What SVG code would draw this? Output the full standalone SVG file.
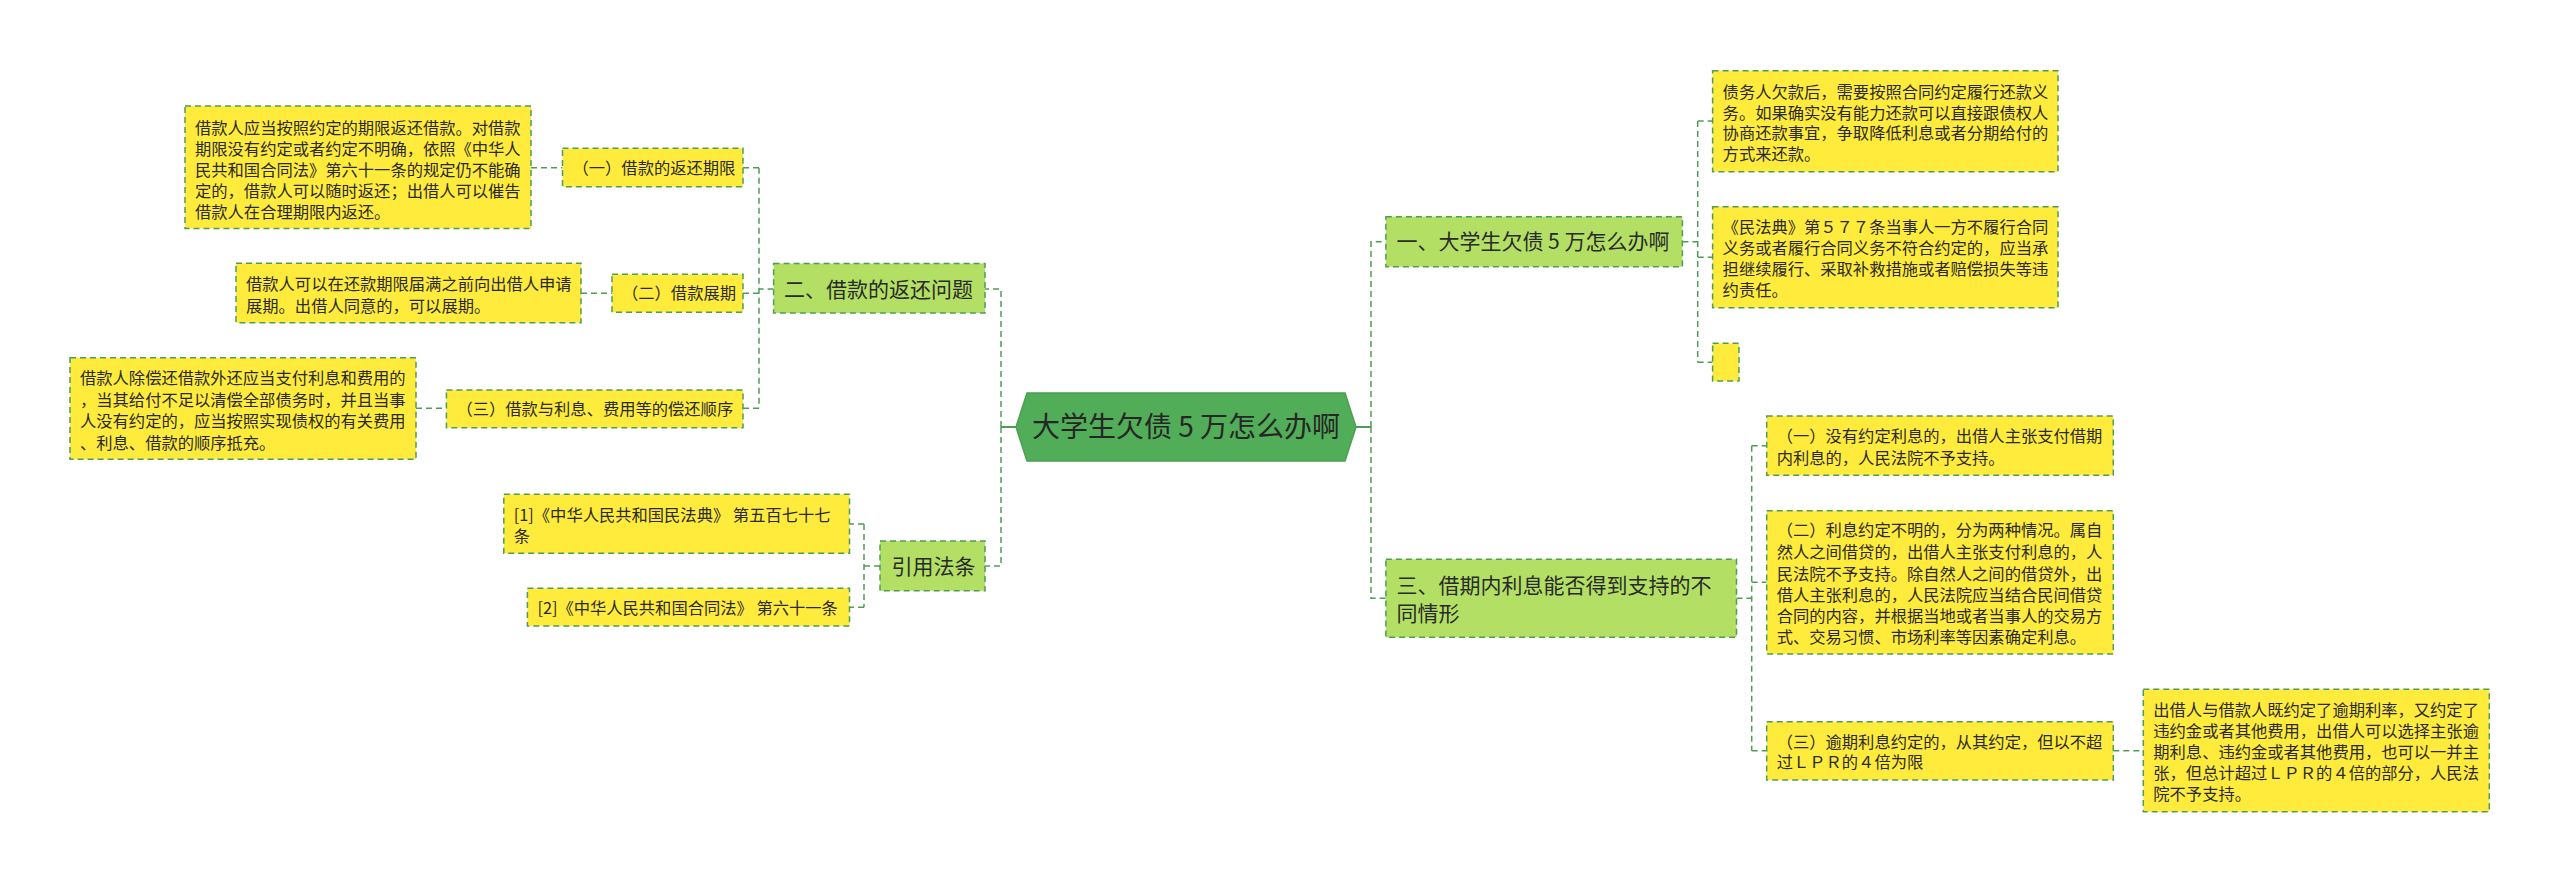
<svg xmlns="http://www.w3.org/2000/svg" width="2560" height="883" viewBox="0 0 2560 883">
<style>
.leaf{fill:#ffeb3b;stroke:#4f9d55;stroke-width:1.5;stroke-dasharray:6 4}
.branch{fill:#b3e064;stroke:#4f9d55;stroke-width:1.5;stroke-dasharray:6 4}
.t{font-family:"Noto Sans CJK SC","Noto Sans",sans-serif;font-size:16.3px;fill:#2a2a2a}
.bt{font-family:"Noto Sans CJK SC","Noto Sans",sans-serif;font-size:21px;fill:#2a2a2a}
.ct{font-family:"Noto Sans CJK SC","Noto Sans",sans-serif;font-size:28px;fill:#262626}
.c{fill:none;stroke:#4f9d55;stroke-width:1.5;stroke-dasharray:6 4}
.cs{fill:none;stroke:#4f9d55;stroke-width:2}
</style>
<rect width="2560" height="883" fill="#ffffff"/>
<g id="connectors">
<path class="cs" d="M1016 427H1001"/>
<path class="c" d="M1001 427V289H985M1001 427V566H985"/>
<path class="cs" d="M1356 427H1371"/>
<path class="c" d="M1371 427V241.7H1386M1371 427V598.3H1386"/>
<path class="c" d="M773.6 289H759M759 167.7V408.3M759 167.7H743M759 293.3H743M759 408.3H743"/>
<path class="c" d="M531 167.7H562.5M581 293.3H612M416 408.3H446.4"/>
<path class="c" d="M880 566H864M864 524V607.3M864 524H849.5M864 607.3H849.5"/>
<path class="c" d="M1682.4 241.7H1697.7M1697.7 121V362.3M1697.7 121H1712.6M1697.7 257.3H1712.6M1697.7 362.3H1712.6"/>
<path class="c" d="M1736.5 598.3H1751.7M1751.7 445.7V750.7M1751.7 445.7H1766.7M1751.7 582.3H1766.7M1751.7 750.7H1766.7"/>
<path class="c" d="M2113.3 750.7H2143.3"/>
</g>
<g id="center">
<polygon points="1016,427 1027,393 1345,393 1356,427 1345,461 1027,461" fill="#52ad59" stroke="#4a9f50" stroke-width="1.5"/>
<text class="ct" x="1186" y="437" text-anchor="middle">大学生欠债 5 万怎么办啊</text>
</g>
<g id="b2">
<rect class="branch" x="773.6" y="263.5" width="211.4" height="49.5"/>
<text class="bt" x="784" y="296.5">二、借款的返还问题</text>
</g>
<g id="b2-1">
<rect class="leaf" x="562.5" y="148.3" width="180.5" height="38.4"/>
<text class="t" x="572.5" y="174">（一）借款的返还期限</text>
</g>
<g id="b2-1-1">
<rect class="leaf" x="185" y="106" width="346" height="122.5"/>
<text class="t" x="195" y="134">借款人应当按照约定的期限返还借款。对借款</text>
<text class="t" x="195" y="155">期限没有约定或者约定不明确，依照《中华人</text>
<text class="t" x="195" y="176">民共和国合同法》第六十一条的规定仍不能确</text>
<text class="t" x="195" y="197">定的，借款人可以随时返还；出借人可以催告</text>
<text class="t" x="195" y="218">借款人在合理期限内返还。</text>
</g>
<g id="b2-2">
<rect class="leaf" x="612" y="274.3" width="131" height="38"/>
<text class="t" x="622" y="299.3">（二）借款展期</text>
</g>
<g id="b2-2-1">
<rect class="leaf" x="236" y="263.3" width="345" height="59.4"/>
<text class="t" x="246" y="290">借款人可以在还款期限届满之前向出借人申请</text>
<text class="t" x="246" y="311.5">展期。出借人同意的，可以展期。</text>
</g>
<g id="b2-3">
<rect class="leaf" x="446.4" y="390" width="296.6" height="37.7"/>
<text class="t" x="456.4" y="414.5">（三）借款与利息、费用等的偿还顺序</text>
</g>
<g id="b2-3-1">
<rect class="leaf" x="70" y="357.7" width="346" height="101.6"/>
<text class="t" x="80" y="384.3">借款人除偿还借款外还应当支付利息和费用的</text>
<text class="t" x="80" y="405.8">，当其给付不足以清偿全部债务时，并且当事</text>
<text class="t" x="80" y="427.3">人没有约定的，应当按照实现债权的有关费用</text>
<text class="t" x="80" y="448.8">、利息、借款的顺序抵充。</text>
</g>
<g id="b4">
<rect class="branch" x="880" y="541" width="105" height="49.7"/>
<text class="bt" x="891.6" y="573.5">引用法条</text>
</g>
<g id="b4-1">
<rect class="leaf" x="503.8" y="494.3" width="345.7" height="59"/>
<text class="t" x="513.8" y="521">[1]《中华人民共和国民法典》 第五百七十七</text>
<text class="t" x="513.8" y="542">条</text>
</g>
<g id="b4-2">
<rect class="leaf" x="527.4" y="588.3" width="322.1" height="37.7"/>
<text class="t" x="537.4" y="614">[2]《中华人民共和国合同法》 第六十一条</text>
</g>
<g id="b1">
<rect class="branch" x="1385.9" y="216.7" width="296.5" height="50"/>
<text class="bt" x="1396.4" y="249.2">一、大学生欠债 5 万怎么办啊</text>
</g>
<g id="b1-1">
<rect class="leaf" x="1712.6" y="70.7" width="345.4" height="101"/>
<text class="t" x="1722.6" y="97.5">债务人欠款后，需要按照合同约定履行还款义</text>
<text class="t" x="1722.6" y="118.5">务。如果确实没有能力还款可以直接跟债权人</text>
<text class="t" x="1722.6" y="139">协商还款事宜，争取降低利息或者分期给付的</text>
<text class="t" x="1722.6" y="160">方式来还款。</text>
</g>
<g id="b1-2">
<rect class="leaf" x="1712.6" y="206.7" width="345.4" height="101"/>
<text class="t" x="1722.6" y="232.5">《民法典》第５７７条当事人一方不履行合同</text>
<text class="t" x="1722.6" y="253.5">义务或者履行合同义务不符合约定的，应当承</text>
<text class="t" x="1722.6" y="274.5">担继续履行、采取补救措施或者赔偿损失等违</text>
<text class="t" x="1722.6" y="295.5">约责任。</text>
</g>
<g id="b1-3">
<rect class="leaf" x="1712.6" y="343.3" width="26.4" height="37.7"/>
</g>
<g id="b3">
<rect class="branch" x="1385.9" y="559.3" width="350.6" height="78"/>
<text class="bt" x="1396.4" y="592.5">三、借期内利息能否得到支持的不</text>
<text class="bt" x="1396.4" y="620.5">同情形</text>
</g>
<g id="b3-1">
<rect class="leaf" x="1766.7" y="416" width="346.6" height="59.3"/>
<text class="t" x="1776.7" y="442">（一）没有约定利息的，出借人主张支付借期</text>
<text class="t" x="1776.7" y="464.3">内利息的，人民法院不予支持。</text>
</g>
<g id="b3-2">
<rect class="leaf" x="1766.7" y="510.7" width="346.6" height="143.3"/>
<text class="t" x="1776.7" y="536">（二）利息约定不明的，分为两种情况。属自</text>
<text class="t" x="1776.7" y="558.3">然人之间借贷的，出借人主张支付利息的，人</text>
<text class="t" x="1776.7" y="580">民法院不予支持。除自然人之间的借贷外，出</text>
<text class="t" x="1776.7" y="600.5">借人主张利息的，人民法院应当结合民间借贷</text>
<text class="t" x="1776.7" y="621.7">合同的内容，并根据当地或者当事人的交易方</text>
<text class="t" x="1776.7" y="643.3">式、交易习惯、市场利率等因素确定利息。</text>
</g>
<g id="b3-3">
<rect class="leaf" x="1766.7" y="721.7" width="346.6" height="58.3"/>
<text class="t" x="1776.7" y="747.7">（三）逾期利息约定的，从其约定，但以不超</text>
<text class="t" x="1776.7" y="767.7">过ＬＰＲ的４倍为限</text>
</g>
<g id="b3-3-1">
<rect class="leaf" x="2143.3" y="689.3" width="346" height="122.4"/>
<text class="t" x="2153.3" y="716">出借人与借款人既约定了逾期利率，又约定了</text>
<text class="t" x="2153.3" y="736.7">违约金或者其他费用，出借人可以选择主张逾</text>
<text class="t" x="2153.3" y="757.7">期利息、违约金或者其他费用，也可以一并主</text>
<text class="t" x="2153.3" y="778.7">张，但总计超过ＬＰＲ的４倍的部分，人民法</text>
<text class="t" x="2153.3" y="800">院不予支持。</text>
</g>
</svg>
